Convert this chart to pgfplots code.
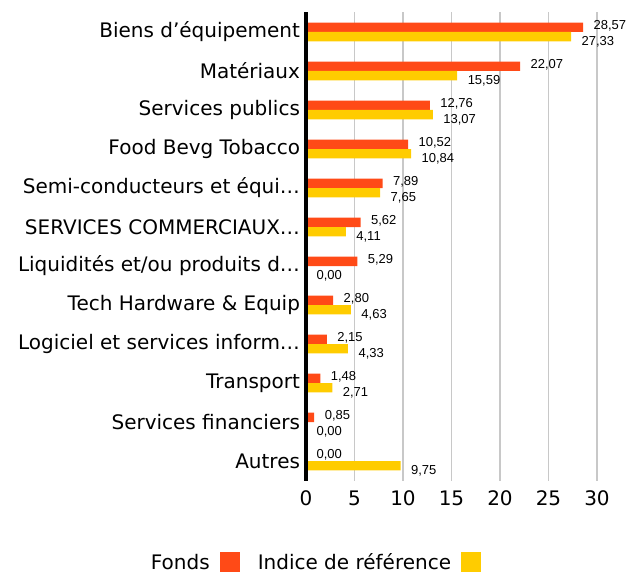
\documentclass[border=0pt]{standalone}
\usepackage{fontspec}
\setmainfont{DejaVu Sans}
\newfontfamily\valfont{Liberation Sans}
\usepackage{pgfplots}
\pgfplotsset{compat=1.18}
\definecolor{fonds}{HTML}{FF4A17}
\definecolor{indice}{HTML}{FFCC00}
\definecolor{gridgray}{HTML}{C8C8C8}
\begin{document}
\begin{tikzpicture}
\begin{axis}[
  at={(0,0)}, anchor=south west,
  scale only axis, width=291pt, height=468pt,
  xmin=0, xmax=30, ymin=-0.5, ymax=11.5,
  xbar, bar width=0.24,
  clip=false,
  axis line style={draw=none},
  tick style={draw=none},
  major tick length=0pt,
  xtick={0,5,...,30},
  ytick={0,...,11},
  yticklabels={Autres, Services financiers, Transport, Logiciel et services inform…, Tech Hardware \& Equip, Liquidités et/ou produits d…, SERVICES COMMERCIAUX…, Semi-conducteurs et équi…, Food Bevg Tobacco, Services publics, Matériaux, Biens d’équipement},
  xmajorgrids,
  major grid style={draw=gridgray, line width=1.5pt},
  ticklabel style={font=\fontsize{20}{24}\selectfont},
  xticklabel style={yshift=-7pt},
  yticklabel style={xshift=-2.5pt},
  /pgf/number format/assume math mode=true,
  point meta=x,
  nodes near coords={\pgfmathprintnumber[fixed, fixed zerofill, precision=2, use comma, assume math mode=true]{\pgfplotspointmeta}},
  nodes near coords style={font=\valfont\fontsize{13}{15}\selectfont, anchor=west, xshift=7pt},
  legend style={at={(0.031,-0.175)}, anchor=center, draw=none, fill=none, font=\fontsize{20}{24}\selectfont, legend columns=2,
    /tikz/every odd column/.append style={column sep=8pt},
    /tikz/every even column/.append style={column sep=16pt}},
  legend plot pos=right,
]
\addplot[fill=fonds, draw=none, bar shift=0.12,
  every node near coord/.append style={yshift=2pt},
  legend image code/.code={\fill[fonds] (0pt,-10pt) rectangle (20pt,10pt);}]
  coordinates {(0,0) (0.85,1) (1.48,2) (2.15,3) (2.80,4) (5.29,5) (5.62,6) (7.89,7) (10.52,8) (12.76,9) (22.07,10) (28.57,11)};
\addplot[fill=indice, draw=none, bar shift=-0.12,
  every node near coord/.append style={yshift=-5pt},
  legend image code/.code={\fill[indice] (0pt,-10pt) rectangle (20pt,10pt);}]
  coordinates {(9.75,0) (0,1) (2.71,2) (4.33,3) (4.63,4) (0,5) (4.11,6) (7.65,7) (10.84,8) (13.07,9) (15.59,10) (27.33,11)};
\legend{Fonds, Indice de référence}
\draw[line width=4pt, black] (axis cs:0,-0.5) -- (axis cs:0,11.5);
\end{axis}
\pgfresetboundingbox
\useasboundingbox (-306pt,-95.5pt) rectangle (325pt,480.5pt);
\end{tikzpicture}
\end{document}
